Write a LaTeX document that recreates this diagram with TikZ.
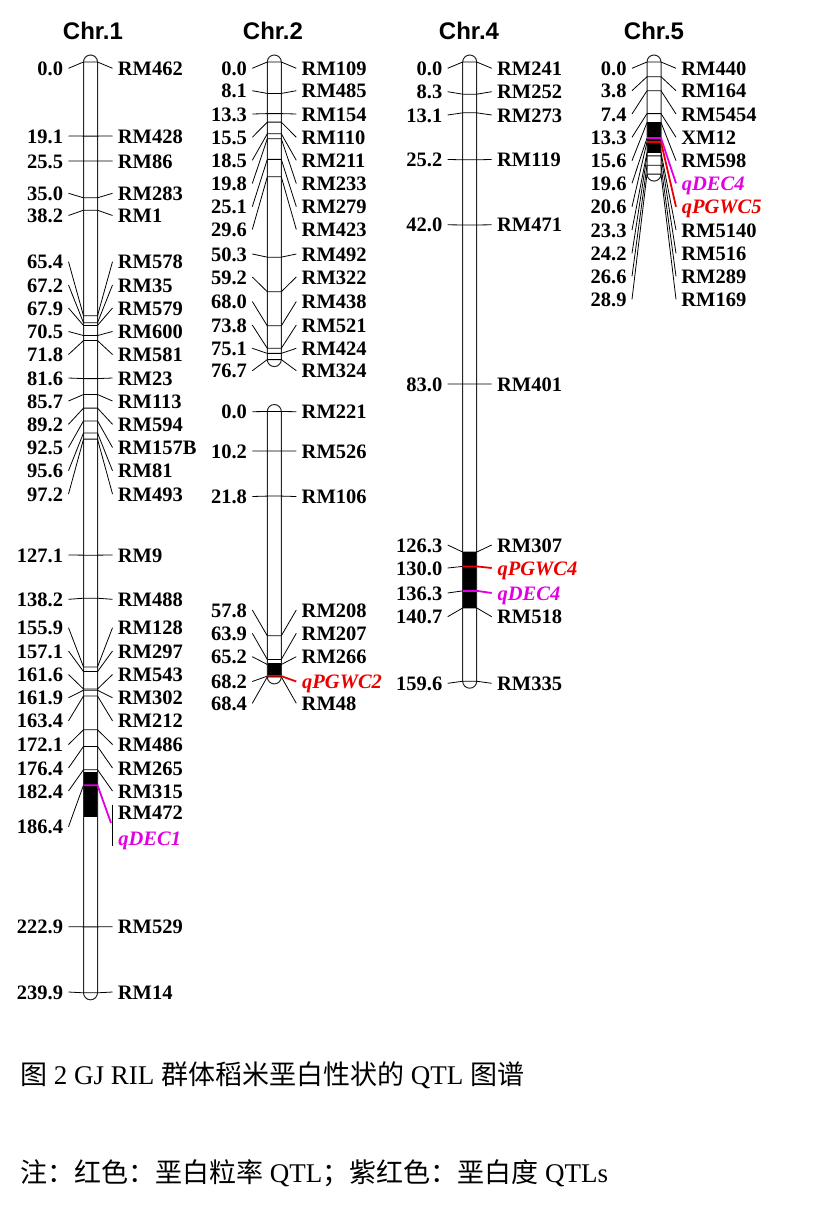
\documentclass[tikz,border=0pt]{standalone}
\usepackage{fontspec}
\setmainfont{Liberation Serif}
\newfontfamily\arialfont{Liberation Sans}
\newfontfamily\cjk{Noto Sans CJK SC}
\usetikzlibrary{positioning}
\definecolor{qtlred}{RGB}{235,0,0}
\definecolor{qtlmag}{RGB}{225,0,225}
\tikzset{
  chrbar/.style={draw=black!85, line width=1pt, rounded corners=7pt},
  lbl/.style={font=\fontsize{20.5}{24}\selectfont\bfseries, inner xsep=5pt, inner ysep=0pt, text height=14pt, text depth=0pt},
  num/.style={lbl, anchor=east, line width=0.8pt},
  mrk/.style={lbl, anchor=west, line width=0.8pt, color=black},
  qred/.style={lbl, anchor=west, font=\fontsize{20.5}{24}\selectfont\bfseries\itshape, color=qtlred, line width=1.8pt},
  qmag/.style={lbl, anchor=west, font=\fontsize{20.5}{24}\selectfont\bfseries\itshape, color=qtlmag, line width=1.8pt},
  chrtitle/.style={anchor=base, font=\arialfont\bfseries\fontsize{24}{28}\selectfont}
}
\begin{document}
\begin{tikzpicture}[x=1pt, y=-1pt]
    \useasboundingbox (0,0) rectangle (837,1215);
    % Chromosome titles
    \node[chrtitle] (t1) at (93,39.5) {Chr.1};
    \node[chrtitle] (t2) at (273,39.5) {Chr.2};
    \node[chrtitle] (t4) at (469,39.5) {Chr.4};
    \node[chrtitle] (t5) at (654,39.5) {Chr.5};

    % QTL intervals (black) and the chromosome bars
    \fill (83.5,772) rectangle (97.5,817);
    \fill (267.3,663) rectangle (281.3,676.5);
    \fill (462.7,552) rectangle (476.7,608);
    \fill (647,122.5) rectangle (661,152.4);
    \draw[chrbar] (83.5,55) rectangle (97.5,999.8);
    \draw[chrbar] (267.3,55) rectangle (281.3,366.6);
    \draw[chrbar] (267.3,404.5) rectangle (281.3,683.9);
    \draw[chrbar] (462.7,55) rectangle (476.7,688.2);
    \draw[chrbar] (647,55) rectangle (661,181.1);

    % Chr.1 markers
    \foreach \cm/\ly/\nm/\st [count=\i] in {0.0/68.3/RM462/mrk, 19.1/136/RM428/mrk, 25.5/161/RM86/mrk,
        35.0/193.3/RM283/mrk, 38.2/215.5/RM1/mrk, 65.4/261.7/RM578/mrk, 67.2/285/RM35/mrk,
        67.9/308/RM579/mrk, 70.5/331.5/RM600/mrk, 71.8/354.5/RM581/mrk, 81.6/378/RM23/mrk,
        85.7/401/RM113/mrk, 89.2/424.3/RM594/mrk, 92.5/447.5/RM157B/mrk, 95.6/470.7/RM81/mrk,
        97.2/494/RM493/mrk, 127.1/555/RM9/mrk, 138.2/599.3/RM488/mrk, 155.9/627.7/RM128/mrk,
        157.1/651/RM297/mrk, 161.6/674.5/RM543/mrk, 161.9/697.8/RM302/mrk, 163.4/720.8/RM212/mrk,
        172.1/744.5/RM486/mrk, 176.4/768/RM265/mrk, 182.4/791/RM315/mrk, 222.9/926.7/RM529/mrk,
        239.9/992/RM14/mrk} {
      \pgfmathsetmacro{\my}{62+3.88*\cm}
      \coordinate (c1a\i) at (83.5,\my);
      \coordinate (c1b\i) at (97.5,\my);
      \node[num] (c1n\i) at (68.5,\ly) {\cm};
      \node[\st] (c1m\i) at (112.5,\ly) {\nm};
      \draw[mrk] (c1n\i.east) -- (c1a\i);
      \draw[\st] (c1a\i) -- (c1b\i) -- (c1m\i.west);
    }
    % qDEC1 shares its position with RM472
    \coordinate (c1qa) at (83.5,785.2);
    \coordinate (c1qb) at (97.5,785.2);
    \coordinate (c1qe) at (111,823);
    \node[num] (c1qn) at (68.5,826.7) {186.4};
    \node[mrk] (c1rm) at (112.5,812) {RM472};
    \node[qmag] (c1q) at (112.5,838) {qDEC1};
    \draw[mrk] (c1qn.east) -- (c1qa);
    \draw[qmag] (c1qa) -- (c1qb) -- (c1qe);
    \draw[mrk] (c1rm.north west) -- (c1q.south west);

    % Chr.2, first linkage group
    \foreach \cm/\ly/\nm/\st [count=\i] in {0.0/68.3/RM109/mrk, 8.1/90.7/RM485/mrk, 13.3/114/RM154/mrk,
        15.5/137.3/RM110/mrk, 18.5/160.3/RM211/mrk, 19.8/183.5/RM233/mrk, 25.1/206.7/RM279/mrk,
        29.6/229.5/RM423/mrk, 50.3/254/RM492/mrk, 59.2/277/RM322/mrk, 68.0/301.5/RM438/mrk,
        73.8/325/RM521/mrk, 75.1/348.3/RM424/mrk, 76.7/370.7/RM324/mrk} {
      \pgfmathsetmacro{\my}{62+3.88*\cm}
      \coordinate (c2a\i) at (267.3,\my);
      \coordinate (c2b\i) at (281.3,\my);
      \node[num] (c2n\i) at (252.3,\ly) {\cm};
      \node[\st] (c2m\i) at (296.3,\ly) {\nm};
      \draw[mrk] (c2n\i.east) -- (c2a\i);
      \draw[\st] (c2a\i) -- (c2b\i) -- (c2m\i.west);
    }
    % Chr.2, second linkage group
    \foreach \cm/\ly/\nm/\st [count=\i] in {0.0/411.7/RM221/mrk, 10.2/451/RM526/mrk, 21.8/496.5/RM106/mrk,
        57.8/610/RM208/mrk, 63.9/633.3/RM207/mrk, 65.2/656.7/RM266/mrk, 68.2/681.5/qPGWC2/qred,
        68.4/703.3/RM48/mrk} {
      \pgfmathsetmacro{\my}{411.5+3.88*\cm}
      \coordinate (c3a\i) at (267.3,\my);
      \coordinate (c3b\i) at (281.3,\my);
      \node[num] (c3n\i) at (252.3,\ly) {\cm};
      \node[\st] (c3m\i) at (296.3,\ly) {\nm};
      \draw[mrk] (c3n\i.east) -- (c3a\i);
      \draw[\st] (c3a\i) -- (c3b\i) -- (c3m\i.west);
    }

    % Chr.4 markers
    \foreach \cm/\ly/\nm/\st [count=\i] in {0.0/68.3/RM241/mrk, 8.3/91.7/RM252/mrk, 13.1/115/RM273/mrk,
        25.2/159.5/RM119/mrk, 42.0/224.8/RM471/mrk, 83.0/384/RM401/mrk, 126.3/545/RM307/mrk,
        130.0/568/qPGWC4/qred, 136.3/593/qDEC4/qmag, 140.7/616.7/RM518/mrk, 159.6/683.3/RM335/mrk} {
      \pgfmathsetmacro{\my}{62+3.88*\cm}
      \coordinate (c4a\i) at (462.7,\my);
      \coordinate (c4b\i) at (476.7,\my);
      \node[num] (c4n\i) at (447.7,\ly) {\cm};
      \node[\st] (c4m\i) at (491.7,\ly) {\nm};
      \draw[mrk] (c4n\i.east) -- (c4a\i);
      \draw[\st] (c4a\i) -- (c4b\i) -- (c4m\i.west);
    }

    % Chr.5 markers
    \foreach \cm/\ly/\nm/\st [count=\i] in {0.0/68.3/RM440/mrk, 3.8/90.7/RM164/mrk, 7.4/114/RM5454/mrk,
        13.3/137.3/XM12/mrk, 15.6/160.7/RM598/mrk, 19.6/183.3/qDEC4/qmag, 20.6/206.7/qPGWC5/qred,
        23.3/230/RM5140/mrk, 24.2/253.3/RM516/mrk, 26.6/276.3/RM289/mrk, 28.9/299.3/RM169/mrk} {
      \pgfmathsetmacro{\my}{62+3.88*\cm}
      \coordinate (c5a\i) at (647,\my);
      \coordinate (c5b\i) at (661,\my);
      \node[num] (c5n\i) at (632,\ly) {\cm};
      \node[\st] (c5m\i) at (676,\ly) {\nm};
      \draw[mrk] (c5n\i.east) -- (c5a\i);
      \draw[\st] (c5a\i) -- (c5b\i) -- (c5m\i.west);
    }

    % Caption and note
    \node[anchor=base west, inner sep=0pt, font=\fontsize{27}{30}\selectfont] (caption) at (20,1084)
        {{\cjk 图} 2 GJ RIL {\cjk 群体稻米垩白性状的} QTL {\cjk 图谱}};
    \node[anchor=base west, inner sep=0pt, font=\fontsize{27}{30}\selectfont] (note) at (20,1182)
        {{\cjk 注：红色：垩白粒率} QTL{\cjk ；紫红色：垩白度} QTLs};
\end{tikzpicture}
\end{document}
